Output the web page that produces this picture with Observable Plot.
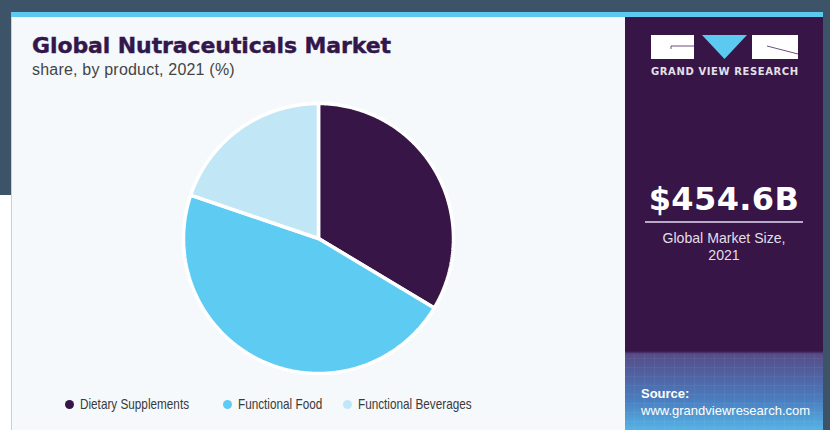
<!DOCTYPE html>
<html>
<head>
<meta charset="utf-8">
<script src="https://cdn.jsdelivr.net/npm/d3@7"></script>
<script src="https://cdn.jsdelivr.net/npm/@observablehq/plot@0.6"></script>
<style>
  html, body { margin: 0; padding: 0; }
  body { width: 830px; height: 430px; overflow: hidden; background: #3d5468; position: relative; font-family: "Liberation Sans", Arial, sans-serif; }
  .abs { position: absolute; }
  #leftwhite { left: 0; top: 195px; width: 12px; height: 240px; background: #ffffff; }
  #card { left: 11px; top: 12px; width: 812px; height: 430px; background: #f5f9fc; border-left: 1px solid #c9d1d8; box-sizing: border-box; }
  #stripe { left: 11px; top: 12px; width: 812px; height: 5px; background: #5cc9f1; }
  #title { left: 32px; top: 33px; font-family: "DejaVu Sans", sans-serif; font-weight: bold; font-size: 22px; color: #33174a; white-space: nowrap; letter-spacing: -0.1px; -webkit-text-stroke: 0.4px #33174a; }
  #subtitle { left: 32px; top: 61px; font-size: 16px; color: #444; white-space: nowrap; letter-spacing: 0.2px; }
  #pie { left: 168px; top: 88px; }
  .leg { top: 396px; font-size: 14.5px; color: #3a3a3a; white-space: nowrap; line-height: 16px; transform: scaleX(0.81); transform-origin: 0 50%; }
  .dot { width: 9px; height: 9px; border-radius: 50%; top: 400px; }
  #panel { left: 625px; top: 17px; width: 198px; height: 413px;
    background:
      repeating-linear-gradient(90deg, rgba(255,255,255,0) 0px, rgba(255,255,255,0) 9px, rgba(255,255,255,0.09) 10px),
      repeating-linear-gradient(0deg, rgba(255,255,255,0) 0px, rgba(255,255,255,0) 8px, rgba(255,255,255,0.09) 9px),
      linear-gradient(180deg, #371546 0px, #371546 334px, #574c88 337px, #50609f 356px, #4a7cbe 382px, #56b3e5 413px);
    background-size: 100% 76px, 100% 76px, 100% 100%;
    background-position: 0 337px, 0 337px, 0 0;
    background-repeat: no-repeat, no-repeat, no-repeat; }
  #grvtext { left: 651px; top: 66px; font-family: "DejaVu Sans", sans-serif; font-weight: bold; font-size: 10px; color: #e4e0ea; letter-spacing: 0.6px; white-space: nowrap; }
  #big { left: 625px; width: 198px; top: 180px; text-align: center; font-family: "DejaVu Sans", sans-serif; font-weight: bold; font-size: 32px; color: #ffffff; letter-spacing: 0.4px; }
  #rule { left: 645px; top: 221px; width: 158px; height: 2px; background: #b9a9c9; }
  #sub { left: 625px; width: 198px; top: 229px; text-align: center; font-size: 15px; color: #e3dfe8; line-height: 17px; transform: scaleX(0.94); transform-origin: 50% 50%; }
  #src1 { left: 641px; top: 386px; font-weight: bold; font-size: 13px; color: #ffffff; }
  #src2 { left: 641px; top: 403px; font-size: 13px; color: #ffffff; white-space: nowrap; }
</style>
</head>
<body>
<div id="leftwhite" class="abs"></div>
<div id="card" class="abs"></div>
<div id="stripe" class="abs"></div>
<div id="title" class="abs">Global Nutraceuticals Market</div>
<div id="subtitle" class="abs">share, by product, 2021 (%)</div>
<div id="pie" class="abs"></div>
<div id="legend"></div>
<div id="panel" class="abs"></div>
<svg class="abs" style="left:651px;top:35px" width="148" height="25">
  <rect x="0" y="0" width="43" height="24" fill="#ffffff"/>
  <path d="M20 14 L20 11 L43 11" stroke="#6a4f80" stroke-width="1" fill="none"/>
  <polygon points="51,0 96,0 73.5,24" fill="#5cc9f1"/>
  <rect x="101" y="0" width="46" height="24" fill="#ffffff"/>
  <path d="M116 11 L147 19" stroke="#6a4f80" stroke-width="1" fill="none"/>
</svg>
<div id="grvtext" class="abs">GRAND VIEW RESEARCH</div>
<div id="big" class="abs">$454.6B</div>
<div id="rule" class="abs"></div>
<div id="sub" class="abs">Global Market Size,<br>2021</div>
<div id="src1" class="abs">Source:</div>
<div id="src2" class="abs">www.grandviewresearch.com</div>
<script>
// ---- data ----
const products = ["Dietary Supplements", "Functional Food", "Functional Beverages"];
const shares = [33.6, 46.6, 19.8];
const colors = ["#371546", "#5ecbf3", "#c1e7f7"];

const data = products.map((p, i) => ({product: p, share: shares[i]}));
const arcs = d3.pie().sort(null).value(d => d.share)(data);
const pts = arcs.flatMap(a => {
  const p = a.data.product;
  const n = Math.max(2, Math.ceil((a.endAngle - a.startAngle) / 0.01));
  const out = [{product: p, x: 0, y: 0}];
  for (let k = 0; k <= n; k++) {
    const t = a.startAngle + (a.endAngle - a.startAngle) * k / n;
    out.push({product: p, x: Math.sin(t), y: Math.cos(t)});
  }
  out.push({product: p, x: 0, y: 0});
  return out;
});

const R = 150 / 135;
const chart = Plot.plot({
  width: 300,
  height: 300,
  margin: 0,
  style: {background: "transparent", overflow: "visible"},
  x: {domain: [-R, R], axis: null},
  y: {domain: [-R, R], axis: null},
  color: {domain: products, range: colors},
  marks: [
    Plot.line(pts, {x: "x", y: "y", z: "product", fill: "product", stroke: "#ffffff", strokeWidth: 3.5, strokeLinejoin: "miter", curve: "linear"})
  ]
});
document.getElementById("pie").appendChild(chart);

// legend
const legX = [69, 227, 347];
const legend = document.getElementById("legend");
products.forEach((p, i) => {
  const dot = document.createElement("div");
  dot.className = "abs dot";
  dot.style.left = (legX[i] - 4.5) + "px";
  dot.style.background = colors[i];
  legend.appendChild(dot);
  const t = document.createElement("div");
  t.className = "abs leg";
  t.style.left = (legX[i] + 11) + "px";
  t.textContent = p;
  legend.appendChild(t);
});
</script>
</body>
</html>
